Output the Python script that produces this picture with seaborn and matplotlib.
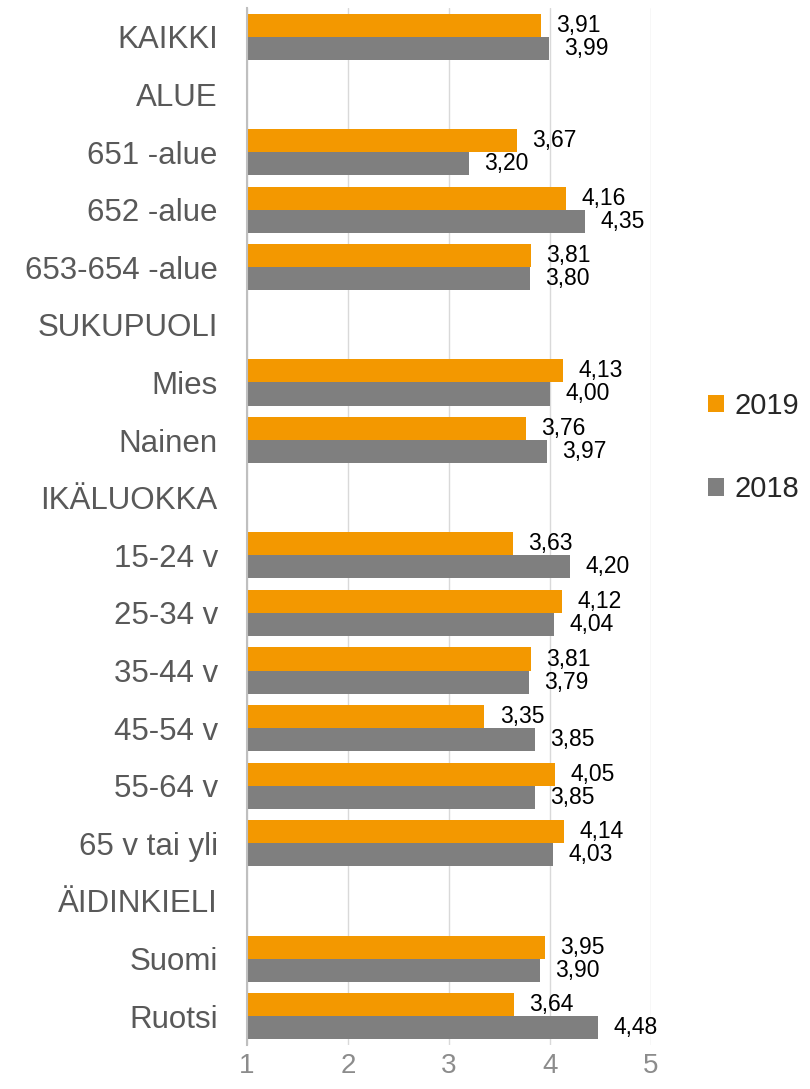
import math
import matplotlib
matplotlib.use("Agg")
import matplotlib.pyplot as plt
from matplotlib.patches import Patch
import seaborn as sns
import pandas as pd
import numpy as np

categories = ["KAIKKI", "ALUE", "651 -alue", "652 -alue", "653-654 -alue",
              "SUKUPUOLI", "Mies", "Nainen", "IKÄLUOKKA", "15-24 v", "25-34 v",
              "35-44 v", "45-54 v", "55-64 v", "65 v tai yli", "ÄIDINKIELI",
              "Suomi", "Ruotsi"]
values_2019 = [3.91, np.nan, 3.67, 4.16, 3.81, np.nan, 4.13, 3.76, np.nan,
               3.63, 4.12, 3.81, 3.35, 4.05, 4.14, np.nan, 3.95, 3.64]
values_2018 = [3.99, np.nan, 3.20, 4.35, 3.80, np.nan, 4.00, 3.97, np.nan,
               4.20, 4.04, 3.79, 3.85, 3.85, 4.03, np.nan, 3.90, 4.48]
years = ["2019", "2018"]
x_ticks = [1, 2, 3, 4, 5]

colors = {"2019": "#F39800", "2018": "#7F7F7F"}

df = pd.DataFrame({
    "category": categories * 2,
    "year": ["2019"] * len(categories) + ["2018"] * len(categories),
    "value": values_2019 + values_2018,
})

sns.set_style("white")
plt.rcParams["font.family"] = ["Liberation Sans", "DejaVu Sans"]

fig = plt.figure(figsize=(8.10, 10.89), dpi=100)
ax = fig.add_axes([247 / 810, 1 - 1045 / 1089, (651 - 247) / 810, (1045 - 8) / 1089])

sns.barplot(data=df, y="category", x="value", hue="year", order=categories,
            hue_order=years, palette=colors, orient="h", errorbar=None,
            width=0.8, saturation=1, linewidth=0, ax=ax, legend=False)

ax.set_xlim(1, 5)
ax.set_ylim(len(categories) - 0.5, -0.5)
ax.set_xticks(x_ticks)
ax.set_xticklabels([str(t) for t in x_ticks])
ax.set_xlabel("")
ax.set_ylabel("")
ax.grid(axis="x", color="#D9D9D9", linewidth=1.0)
ax.grid(axis="y", visible=False)
ax.set_axisbelow(True)
for s in ["top", "right", "bottom"]:
    ax.spines[s].set_visible(False)
ax.spines["left"].set_color("#BFBFBF")
ax.spines["left"].set_linewidth(1.5)
ax.tick_params(axis="y", length=0, pad=21, labelsize=22.5, labelcolor="#595959")
ax.tick_params(axis="x", length=0, pad=6, labelsize=20, labelcolor="#8C8C8C")


def fmt(v):
    if v is None or (isinstance(v, float) and math.isnan(v)):
        return ""
    return f"{v:.2f}".replace(".", ",")


for cont in ax.containers:
    labels = [fmt(b.get_width()) for b in cont]
    ax.bar_label(cont, labels=labels, padding=11, fontsize=16.5, color="#000000")

handles = [Patch(facecolor=colors[y], edgecolor="none", label=y) for y in years]
fig.legend(handles=handles, loc="center left",
           bbox_to_anchor=(708 / 810, 1 - 447.5 / 1089), frameon=False,
           fontsize=21, handlelength=0.55, handleheight=0.55,
           handletextpad=0.35, labelspacing=1.9, borderpad=0, borderaxespad=0)

fig.savefig("out.png", dpi=100)
